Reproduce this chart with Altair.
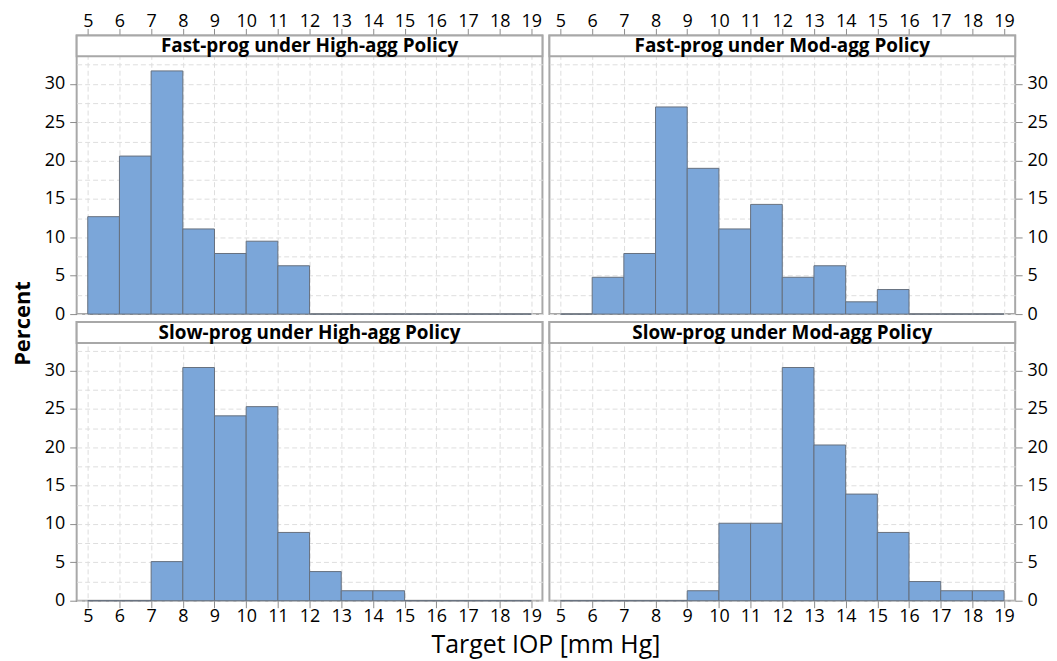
import altair as alt
import pandas as pd

# ---------------- data ----------------
BIN_EDGES = [5, 6, 7, 8, 9, 10, 11, 12, 13, 14, 15, 16, 17, 18, 19]
X_TICKS = [5, 6, 7, 8, 9, 10, 11, 12, 13, 14, 15, 16, 17, 18, 19]
Y_GRID = [0, 2.5, 5, 7.5, 10, 12.5, 15, 17.5, 20, 22.5, 25, 27.5, 30, 32.5]

PANEL_TITLES = [
    "Fast-prog under High-agg Policy",
    "Fast-prog under Mod-agg Policy",
    "Slow-prog under High-agg Policy",
    "Slow-prog under Mod-agg Policy",
]
# percent of cases per 1-mm Hg bin (5-6, 6-7, ..., 18-19)
PCT_FAST_HIGH = [12.7, 20.6, 31.7, 11.1, 7.9, 9.5, 6.3, 0, 0, 0, 0, 0, 0, 0]
PCT_FAST_MOD = [0, 4.8, 7.9, 27.0, 19.0, 11.1, 14.3, 4.8, 6.3, 1.6, 3.2, 0, 0, 0]
PCT_SLOW_HIGH = [0, 0, 5.1, 30.4, 24.1, 25.3, 8.9, 3.8, 1.3, 1.3, 0, 0, 0, 0]
PCT_SLOW_MOD = [0, 0, 0, 0, 1.3, 10.1, 10.1, 30.4, 20.3, 13.9, 8.9, 2.5, 1.3, 1.3]

X_TITLE = "Target IOP [mm Hg]"
Y_TITLE = "Percent"

# ---------------- style ----------------
FONT = "Open Sans"
BAR_FILL = "#7ba6d9"
BAR_EDGE = "#66707e"
FRAME = "#a8a8a8"
TICK = "#8c8c8c"
GRID = "#dedede"
XMIN, XMAX = 4.65, 19.35
YMAX = 33.6
W = 468
PLOT_H = 259
STRIP_H = 21
TOTAL_H = PLOT_H + STRIP_H
YTOP = YMAX * TOTAL_H / PLOT_H  # strip sits above the data region
LABEL_SIZE = 18


def make_panel(title, pct, col, row):
    left = col == 0
    bottom = row == 1
    top = row == 0
    df = pd.DataFrame({"lo": BIN_EDGES[:-1], "hi": BIN_EDGES[1:], "pct": pct})
    xscale = alt.Scale(domain=[XMIN, XMAX], nice=False, zero=False)
    yscale = alt.Scale(domain=[0, YTOP], nice=False)

    xkw = dict(
        values=X_TICKS, orient="top" if top else "bottom", grid=True, gridColor=GRID,
        gridDash=[5, 3], gridWidth=1, domain=False, tickSize=7,
        tickColor=TICK, tickWidth=1, labelFont=FONT, labelFontSize=LABEL_SIZE,
        labelColor="black", labelFlush=False, labelOverlap=False,
        title=None,
    )
    if top:
        xkw.update(labelBaseline="alphabetic", labelPadding=2)
    else:
        xkw.update(labelPadding=0)
    if bottom and left:
        xkw.update(
            title=X_TITLE, titleFont=FONT, titleFontSize=25, titleFontWeight="normal",
            titleColor="black", titleX=471, titleY=44, titleAlign="center",
            titleBaseline="middle", titleAnchor="middle",
        )
    ykw = dict(
        values=Y_GRID, orient="left" if left else "right", grid=True, gridColor=GRID,
        gridDash=[5, 3], gridWidth=1, domain=False, tickSize=7, tickColor=TICK,
        tickWidth=1,
        tickOpacity={"condition": {"test": "datum.value % 5 != 0", "value": 0}, "value": 1},
        labelExpr="datum.value % 5 == 0 ? datum.label : ''",
        labelFont=FONT, labelFontSize=LABEL_SIZE, labelColor="black", labelPadding=5,
        labelOverlap=False, labelFlush=False, title=None,
    )
    if bottom and left:
        ykw.update(
            title=Y_TITLE, titleFont=FONT, titleFontSize=22, titleFontWeight="bold",
            titleColor="black", titleAngle=270, titleX=-54, titleY=1,
            titleAlign="center", titleBaseline="middle",
        )

    bars = alt.Chart(df).mark_bar(
        fill=BAR_FILL, stroke=BAR_EDGE, strokeWidth=1, opacity=1
    ).encode(
        x=alt.X("lo:Q", scale=xscale, axis=alt.Axis(**xkw)),
        x2="hi:Q",
        y=alt.Y("pct:Q", scale=yscale, axis=alt.Axis(**ykw)),
        y2=alt.datum(0),
    )

    strip_df = pd.DataFrame({"label": [title]})
    strip_box = alt.Chart(strip_df).mark_rect(
        fill="white", stroke=FRAME, strokeWidth=2
    ).encode(
        x=alt.value(0), x2=alt.value(W), y=alt.value(0), y2=alt.value(STRIP_H)
    )
    strip_text = alt.Chart(strip_df).mark_text(
        font=FONT, fontSize=19, fontWeight="bold", color="black",
        baseline="middle", align="center"
    ).encode(
        x=alt.value(W / 2), y=alt.value(STRIP_H / 2 + 0.5), text="label:N"
    )
    return alt.layer(bars, strip_box, strip_text).properties(width=W, height=TOTAL_H)


panels = [
    make_panel(PANEL_TITLES[0], PCT_FAST_HIGH, 0, 0),
    make_panel(PANEL_TITLES[1], PCT_FAST_MOD, 1, 0),
    make_panel(PANEL_TITLES[2], PCT_SLOW_HIGH, 0, 1),
    make_panel(PANEL_TITLES[3], PCT_SLOW_MOD, 1, 1),
]

chart = (
    alt.concat(*panels, columns=2, spacing=alt.RowColnumber(row=8, column=7), bounds="flush")
    .properties(padding={"left": 3, "top": 2, "right": 0, "bottom": 0}, background="white")
    .configure_view(stroke=FRAME, strokeWidth=2, fill="white")
)

chart.save("out.html", embed_options={"renderer": "svg", "actions": False})
